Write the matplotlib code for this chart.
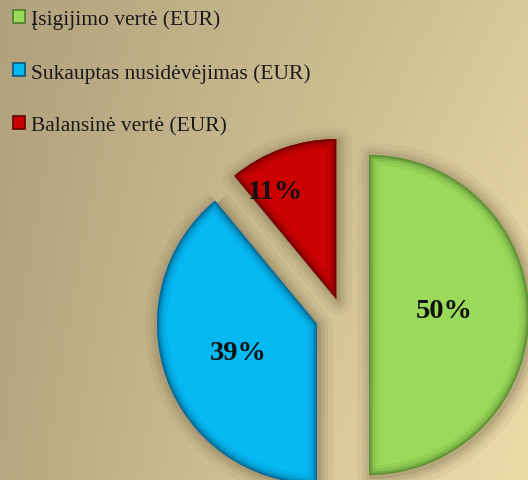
import numpy as np
import matplotlib
matplotlib.use("Agg")
import matplotlib.pyplot as plt
from matplotlib.patches import Wedge, Rectangle

# ---- data ----
labels = ["Įsigijimo vertė (EUR)", "Sukauptas nusidėvėjimas (EUR)", "Balansinė vertė (EUR)"]
values = [50, 39, 11]
colors = ["#9bd95a", "#06b9f3", "#cc0202"]
dark_colors = ["#4f7d2c", "#03577e", "#5e0000"]
explode = [0.169, 0.166, 0.106]
label_offsets = [(0.47, 0.03), (-0.49, -0.18), (-0.38, 0.67)]

W, H = 528, 481
fig = plt.figure(figsize=(W / 100, H / 100), dpi=100)
ax = fig.add_axes([0, 0, 1, 1])

# background gradient
tl = np.array([0xb1, 0xa2, 0x7e]) / 255
tr = np.array([0xd8, 0xc9, 0x98]) / 255
bl = np.array([0xb7, 0xa8, 0x81]) / 255
br = np.array([0xee, 0xdd, 0xab]) / 255
yy, xx = np.mgrid[0:1:120j, 0:1:130j]
img = (tl[None, None, :] * ((1 - xx) * (1 - yy))[..., None]
       + tr[None, None, :] * (xx * (1 - yy))[..., None]
       + bl[None, None, :] * ((1 - xx) * yy)[..., None]
       + br[None, None, :] * (xx * yy)[..., None])
ax.imshow(img, extent=[0, W, 0, H], origin="upper", aspect="auto", zorder=0,
          interpolation="bilinear")

R = 160
wedges, texts, autotexts = ax.pie(
    values, colors=colors, explode=[e * R for e in explode], startangle=90,
    counterclock=False, radius=R, center=(342, 165), autopct="%1.0f%%",
    pctdistance=0.5, wedgeprops=dict(edgecolor="none", zorder=3),
    textprops=dict(fontfamily="Liberation Serif", fontweight="bold",
                   fontsize=20.5, color="#111111"),
    frame=True)

for w, dc, off, t in zip(wedges, dark_colors, label_offsets, autotexts):
    cx, cy = w.center
    # soft shadow around the wedge
    for lw, a in [(20, 0.05), (13, 0.07), (8, 0.09), (3, 0.12)]:
        s = Wedge((cx + 2, cy - 2), w.r, w.theta1, w.theta2, fill=False,
                  edgecolor="#4a3b22", lw=lw, alpha=a, zorder=2,
                  joinstyle="round")
        ax.add_patch(s)
    # inner bevel rim
    for lw, a in [(14, 0.10), (9, 0.18), (5, 0.32), (2.2, 0.6)]:
        b = Wedge((cx, cy), w.r, w.theta1, w.theta2, fill=False,
                  edgecolor=dc, lw=lw, alpha=a, zorder=4, joinstyle="miter")
        ax.add_patch(b)
        b.set_clip_path(w)
    t.set_position((cx + off[0] * w.r, cy + off[1] * w.r))
    t.set_zorder(6)

ax.set_xlim(0, W)
ax.set_ylim(0, H)
ax.set_aspect("auto")
ax.axis("off")

handles = [Rectangle((0, 0), 1, 1, facecolor=c, edgecolor=d, lw=1.2)
           for c, d in zip(colors, dark_colors)]
leg = ax.legend(handles, labels, loc="upper left", bbox_to_anchor=(-0.012, 1.018),
                frameon=False, handlelength=0.55, handleheight=0.55,
                handletextpad=0.3, labelspacing=1.55,
                prop=dict(family="Liberation Serif", size=15.5))
for t in leg.get_texts():
    t.set_color("#1a1a1a")

fig.savefig("out.png", dpi=100)
